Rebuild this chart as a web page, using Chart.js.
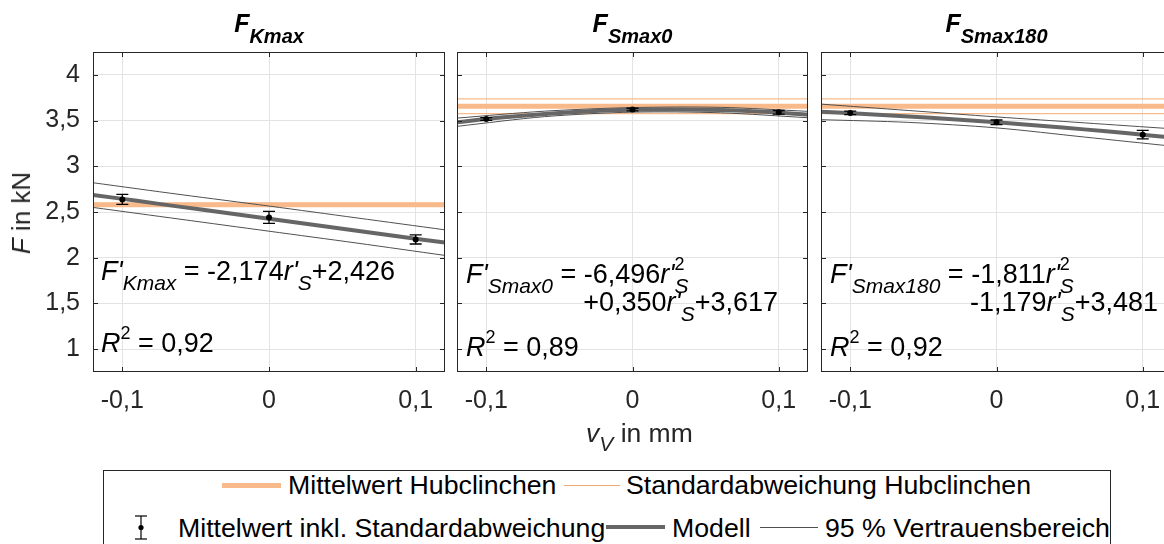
<!DOCTYPE html>
<html>
<head>
<meta charset="utf-8">
<script src="https://cdn.jsdelivr.net/npm/chart.js@4.4.0/dist/chart.umd.min.js"></script>
<style>
  html, body { margin: 0; padding: 0; width: 1164px; height: 544px; overflow: hidden; background: #fff; }
  body { position: relative; font-family: "Liberation Sans", Arial, sans-serif; color: #262626; }
  canvas { position: absolute; top: 0; }
  .txt { position: absolute; white-space: nowrap; font-size: 26.7px; line-height: 30px; color: #000; }
  .ln { position: absolute; }
  #legend { position: absolute; left: 103px; top: 470px; width: 1008px; height: 90px; border: 1px solid #262626; box-sizing: border-box; }
  #ylabel { position: absolute; left: 21px; top: 213px; font-size: 26px; line-height: 30px; white-space: nowrap; transform: translate(-50%, -50%) rotate(-90deg); }
  #xlabel { position: absolute; left: 586px; top: 418px; font-size: 26.5px; line-height: 30px; white-space: nowrap; }
  #xlabel sub { font-size: 21px; position: relative; top: 9px; vertical-align: baseline; }
</style>
</head>
<body>

<canvas id="pK" width="450" height="420" style="left:0px"></canvas>
<canvas id="pS0" width="365" height="420" style="left:450px"></canvas>
<canvas id="pS180" width="365" height="420" style="left:814px"></canvas>

<div id="ylabel"><i>F</i> in kN</div>
<div id="xlabel"><i>v</i><sub><i>V</i></sub> in mm</div>

<div id="legend"></div>
<div class="ln" style="left:222px;top:483px;width:59px;height:5px;background:#F8BA8A"></div>
<div class="txt" style="left:288px;top:470px">Mittelwert Hubclinchen</div>
<div class="ln" style="left:564px;top:485px;width:56px;height:1px;background:#F3A86F"></div>
<div class="txt" style="left:626px;top:470px">Standardabweichung Hubclinchen</div>

<svg style="position:absolute;left:131px;top:515px" width="20" height="26">
  <line x1="10" y1="1" x2="10" y2="24" stroke="#000" stroke-width="1.2"/>
  <line x1="4" y1="1" x2="16" y2="1" stroke="#000" stroke-width="1.2"/>
  <line x1="4" y1="24" x2="16" y2="24" stroke="#000" stroke-width="1.2"/>
  <circle cx="10" cy="12.5" r="2.6" fill="#000"/>
</svg>
<div class="txt" style="left:178px;top:513px">Mittelwert inkl. Standardabweichung</div>
<div class="ln" style="left:606px;top:525px;width:59px;height:4px;background:#666"></div>
<div class="txt" style="left:672px;top:513px">Modell</div>
<div class="ln" style="left:760px;top:527px;width:58px;height:1px;background:#505050"></div>
<div class="txt" style="left:825px;top:513px">95 % Vertrauensbereich</div>

<script>
// axis ticks
const xTicks = [-0.1, 0, 0.1];
const yTicks = [1, 1.5, 2, 2.5, 3, 3.5, 4];

// measurement positions v_V and sampling positions of model / confidence band
const measX = [-0.1, 0, 0.1];
const modelX = [-0.12, -0.09, -0.06, -0.03, 0, 0.03, 0.06, 0.09, 0.12];
const bandX = [-0.12, -0.06, 0, 0.06, 0.12];
const refX = [-0.12, 0.12];

// F_Kmax
const kmaxMean = [2.638, 2.441, 2.200];
const kmaxStd = [0.055, 0.065, 0.050];
const kmaxModel = [2.687, 2.622, 2.556, 2.491, 2.426, 2.361, 2.296, 2.230, 2.165];
const kmaxUpper = [2.820, 2.690, 2.565, 2.435, 2.305];
const kmaxLower = [2.550, 2.420, 2.290, 2.160, 2.025];
const kmaxRef = [2.580, 2.580];
const kmaxRefStd = [0.015, 0.015];

// F_Smax0
const s0Mean = [3.518, 3.620, 3.590];
const s0Std = [0.015, 0.015, 0.020];
const s0Model = [3.4815, 3.5329, 3.5726, 3.6007, 3.617, 3.6217, 3.6146, 3.5959, 3.5655];
const s0Upper = [3.527, 3.603, 3.642, 3.645, 3.601];
const s0Lower = [3.437, 3.543, 3.592, 3.585, 3.531];
const s0Ref = [3.657, 3.657];
const s0RefStd = [0.080, 0.080];

// F_Smax180
const s180Mean = [3.584, 3.481, 3.346];
const s180Std = [0.020, 0.025, 0.047];
const s180Model = [3.5964, 3.5724, 3.5452, 3.5147, 3.481, 3.4440, 3.4037, 3.3602, 3.3134];
const s180Upper = [3.680, 3.610, 3.540, 3.475, 3.410];
const s180Lower = [3.510, 3.480, 3.420, 3.320, 3.220];
const s180Ref = [3.657, 3.657];
const s180RefStd = [0.080, 0.080];

const ORANGE = '#F8BA8A';
const FONT = '"Liberation Sans", Arial, sans-serif';
const AXIS = '#262626';

const pts = (xs, ys) => xs.map((x, i) => ({ x: x, y: ys[i] }));
const fmt = v => String(Math.round(v * 10) / 10).replace('.', ',');

// text with sub-/superscripts: each part is [text, font, dy] or {sup, sub}
function richText(ctx, x, y, parts, align) {
  const SUP = '18px ' + FONT, SUB = 'italic 21px ' + FONT;
  let w = 0;
  const widths = parts.map(p => {
    let pw;
    if (Array.isArray(p)) { ctx.font = p[1]; pw = ctx.measureText(p[0]).width; }
    else {
      ctx.font = SUP; const a = p.sup ? ctx.measureText(p.sup).width : 0;
      ctx.font = SUB; const b = p.sub ? ctx.measureText(p.sub).width : 0;
      pw = Math.max(a, b);
    }
    w += pw; return pw;
  });
  if (align === 'center') x -= w / 2;
  if (align === 'right') x -= w;
  ctx.fillStyle = '#000';
  ctx.textBaseline = 'alphabetic';
  ctx.textAlign = 'left';
  parts.forEach((p, i) => {
    if (Array.isArray(p)) { ctx.font = p[1]; ctx.fillText(p[0], x, y + (p[2] || 0)); }
    else {
      if (p.sup) { ctx.font = SUP; ctx.fillText(p.sup, x, y - 13); }
      if (p.sub) { ctx.font = SUB; ctx.fillText(p.sub, x, y + 10); }
    }
    x += widths[i];
  });
}

const M = '27px ' + FONT, MI = 'italic 27px ' + FONT, SI = 'italic 21px ' + FONT;
const TB = 'bold italic 25px ' + FONT, TS = 'bold italic 20px ' + FONT;

// frame, inward ticks, error bars, title and equations
const panelDeco = {
  id: 'panelDeco',
  afterDatasetsDraw(chart, args, opts) {
    const ctx = chart.ctx, xs = chart.scales.x, ys = chart.scales.y;
    ctx.save();
    ctx.strokeStyle = '#000';
    ctx.lineWidth = 1.3;
    opts.mean.forEach((m, i) => {
      const px = xs.getPixelForValue(measX[i]);
      const y1 = ys.getPixelForValue(m + opts.std[i]);
      const y2 = ys.getPixelForValue(m - opts.std[i]);
      ctx.beginPath();
      ctx.moveTo(px, y1); ctx.lineTo(px, y2);
      ctx.moveTo(px - 6, y1); ctx.lineTo(px + 6, y1);
      ctx.moveTo(px - 6, y2); ctx.lineTo(px + 6, y2);
      ctx.stroke();
    });
    ctx.restore();
  },
  afterDraw(chart, args, opts) {
    const ctx = chart.ctx, a = chart.chartArea, xs = chart.scales.x, ys = chart.scales.y;
    ctx.save();
    ctx.strokeStyle = AXIS;
    ctx.lineWidth = 1;
    ctx.strokeRect(a.left + 0.5, a.top + 0.5, a.right - a.left - 1, a.bottom - a.top - 1);
    ctx.beginPath();
    xTicks.forEach(v => {
      const px = Math.round(xs.getPixelForValue(v)) + 0.5;
      ctx.moveTo(px, a.bottom); ctx.lineTo(px, a.bottom - 5);
      ctx.moveTo(px, a.top); ctx.lineTo(px, a.top + 5);
    });
    yTicks.forEach(v => {
      const py = Math.round(ys.getPixelForValue(v)) + 0.5;
      ctx.moveTo(a.left, py); ctx.lineTo(a.left + 5, py);
      ctx.moveTo(a.right, py); ctx.lineTo(a.right - 5, py);
    });
    ctx.stroke();
    const cx = (a.left + a.right) / 2;
    richText(ctx, cx, 32, opts.title, 'center');
    opts.lines.forEach(l => richText(ctx, a.left + l.dx, l.y, l.parts, l.align));
    ctx.restore();
  }
};

function makePanel(id, d) {
  return new Chart(document.getElementById(id), {
    type: 'line',
    data: {
      datasets: [
        { data: pts(measX, d.mean), showLine: false, pointRadius: 3, pointBackgroundColor: '#000', pointBorderWidth: 0 },
        { data: pts(modelX, d.model), borderColor: '#666', borderWidth: 4, pointRadius: 0, tension: 0.3 },
        { data: pts(bandX, d.upper), borderColor: '#505050', borderWidth: 1, pointRadius: 0, tension: 0.3 },
        { data: pts(bandX, d.lower), borderColor: '#505050', borderWidth: 1, pointRadius: 0, tension: 0.3 },
        { data: pts(refX, d.ref), borderColor: ORANGE, borderWidth: 5, pointRadius: 0 },
        { data: pts(refX, d.ref.map((r, i) => r + d.refStd[i])), borderColor: ORANGE, borderWidth: 1.2, pointRadius: 0 },
        { data: pts(refX, d.ref.map((r, i) => r - d.refStd[i])), borderColor: ORANGE, borderWidth: 1.2, pointRadius: 0 }
      ]
    },
    options: {
      responsive: false,
      animation: false,
      events: [],
      layout: { padding: { top: 52, left: d.padL, right: d.padR, bottom: 0 } },
      plugins: {
        legend: { display: false },
        tooltip: { enabled: false },
        panelDeco: { mean: d.mean, std: d.std, title: d.title, lines: d.lines }
      },
      scales: {
        x: {
          type: 'linear', min: -0.12, max: 0.12,
          afterBuildTicks: s => { s.ticks = xTicks.map(v => ({ value: v })); },
          afterFit: s => { s.height = 48; },
          grid: { color: '#e3e3e3', drawTicks: false },
          border: { display: false },
          ticks: { callback: v => fmt(v), color: AXIS, font: { family: FONT, size: 25 }, padding: 14, maxRotation: 0 }
        },
        y: {
          type: 'linear', min: 0.75, max: 4.25,
          afterBuildTicks: s => { s.ticks = yTicks.map(v => ({ value: v })); },
          afterFit: s => { s.width = d.yWidth; },
          grid: { color: '#e3e3e3', drawTicks: false },
          border: { display: false },
          ticks: { display: d.yWidth > 0, callback: v => fmt(v), color: AXIS, font: { family: FONT, size: 25 }, padding: 13 }
        }
      }
    },
    plugins: [panelDeco]
  });
}

makePanel('pK', {
  mean: kmaxMean, std: kmaxStd, model: kmaxModel, upper: kmaxUpper, lower: kmaxLower,
  ref: kmaxRef, refStd: kmaxRefStd, padL: 0, padR: 5, yWidth: 93,
  title: [['F', TB], ['Kmax', TS, 11]],
  lines: [
    { dx: 8, y: 280, parts: [["F'", MI], ['Kmax', SI, 10], [' = -2,174', M], ["r'", MI], ['S', SI, 10], ['+2,426', M]] },
    { dx: 8, y: 352, parts: [['R', MI], { sup: '2' }, [' = 0,92', M]] }
  ]
});

makePanel('pS0', {
  mean: s0Mean, std: s0Std, model: s0Model, upper: s0Upper, lower: s0Lower,
  ref: s0Ref, refStd: s0RefStd, padL: 7, padR: 7, yWidth: 0,
  title: [['F', TB], ['Smax0', TS, 11]],
  lines: [
    { dx: 9, y: 283, parts: [["F'", MI], ['Smax0', SI, 10], [' = -6,496', M], ["r'", MI], { sup: '2', sub: 'S' }] },
    { dx: 321, y: 311, align: 'right', parts: [['+0,350', M], ["r'", MI], ['S', SI, 10], ['+3,617', M]] },
    { dx: 9, y: 356, parts: [['R', MI], { sup: '2' }, [' = 0,89', M]] }
  ]
});

makePanel('pS180', {
  mean: s180Mean, std: s180Std, model: s180Model, upper: s180Upper, lower: s180Lower,
  ref: s180Ref, refStd: s180RefStd, padL: 7, padR: 7, yWidth: 0,
  title: [['F', TB], ['Smax180', TS, 11]],
  lines: [
    { dx: 9, y: 283, parts: [["F'", MI], ['Smax180', SI, 10], [' = -1,811', M], ["r'", MI], { sup: '2', sub: 'S' }] },
    { dx: 337, y: 311, align: 'right', parts: [['-1,179', M], ["r'", MI], ['S', SI, 10], ['+3,481', M]] },
    { dx: 9, y: 356, parts: [['R', MI], { sup: '2' }, [' = 0,92', M]] }
  ]
});
</script>
</body>
</html>
